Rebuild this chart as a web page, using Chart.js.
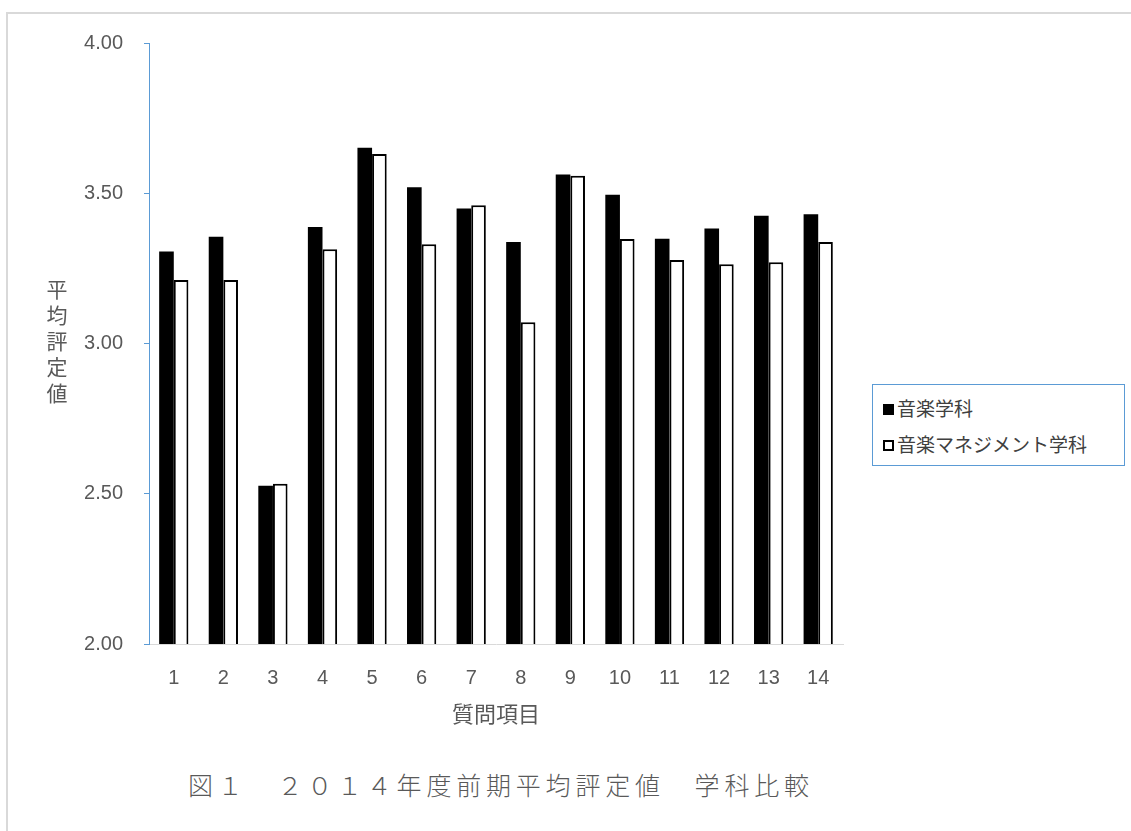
<!DOCTYPE html>
<html lang="ja">
<head>
<meta charset="utf-8">
<title>2014年度前期平均評定値 学科比較</title>
<script src="https://cdn.jsdelivr.net/npm/chart.js@4/dist/chart.umd.min.js"></script>
<style>
    body { margin: 0; background: #fff; font-family: Roboto, "Noto Sans CJK JP", sans-serif; }
    #page { position: relative; width: 1131px; height: 831px; overflow: hidden; }
    #frame { position: absolute; left: 6px; top: 12px; width: 1200px; height: 900px;
             border-left: 2px solid #d9d9d9; border-top: 2px solid #d9d9d9; }
    #chartBox { position: absolute; left: 0; top: 0; width: 870px; height: 740px; }
    #yTitle { position: absolute; left: 46px; top: 279px; writing-mode: vertical-rl;
              font-family: "Noto Sans CJK JP", sans-serif; font-size: 21px; line-height: 22px;
              letter-spacing: 5px; color: #595959; }
    #legend { position: absolute; left: 872px; top: 384px; width: 253px; height: 82px;
              border: 1px solid #5b9bd5; box-sizing: border-box; padding: 10px 0 0 10px;
              font-family: "Noto Sans CJK JP", sans-serif; font-size: 19px; color: #404040; }
    #legend div { height: 36px; line-height: 26px; white-space: nowrap; }
    #legend span.mark { display: inline-block; width: 11px; height: 11px; box-sizing: border-box;
                        margin-right: 3px; vertical-align: 1px; }
    #caption { position: absolute; left: 188px; top: 766px; white-space: nowrap;
               font-family: "Noto Sans CJK JP", sans-serif; font-weight: 300; font-size: 25px;
               letter-spacing: 4.8px; color: #595959; }
</style>
</head>
<body>
<div id="page">
    <div id="frame"></div>
    <div id="chartBox"><canvas id="chart"></canvas></div>
    <div id="yTitle">平均評定値</div>
    <div id="legend"></div>
    <div id="caption">図１　２０１４年度前期平均評定値　学科比較</div>
</div>
<script>
const questions = ['1', '2', '3', '4', '5', '6', '7', '8', '9', '10', '11', '12', '13', '14'];
const seriesNames = ['音楽学科', '音楽マネジメント学科'];
const musicAvg = [3.306, 3.355, 2.527, 3.388, 3.651, 3.520, 3.449, 3.338, 3.562, 3.495, 3.349, 3.383, 3.425, 3.430];
const managementAvg = [3.211, 3.211, 2.533, 3.314, 3.631, 3.330, 3.460, 3.071, 3.558, 3.348, 3.278, 3.264, 3.270, 3.338];
const yTicks = [2.0, 2.5, 3.0, 3.5, 4.0];

const axisBlue = '#5b9bd5';
const textGrey = '#595959';

function dataSet(label, bgColor, borderCol, borderW, data) {
    return {
        label: label,
        backgroundColor: bgColor,
        borderColor: borderCol,
        borderWidth: borderW,
        data: data,
        barPercentage: 1.0,
        categoryPercentage: 0.59
    }
}

const datasets = [
    dataSet(seriesNames[0], '#000000', '#000000', 0, musicAvg),
    dataSet(seriesNames[1], '#ffffff', '#000000', 2, managementAvg)
];

const chart = new Chart(document.getElementById('chart').getContext('2d'), {
    type: 'bar',
    data: {labels: questions, datasets: datasets},
    options: {
        responsive: true,
        maintainAspectRatio: false,
        animation: false,
        layout: {padding: {top: 43, right: 27, bottom: 0, left: 0}},
        plugins: {
            legend: {display: false},
            tooltip: {enabled: false}
        },
        scales: {
            x: {
                grid: {display: false},
                border: {display: true, color: '#d9d9d9', width: 1},
                ticks: {color: textGrey, font: {size: 20}, padding: 14, maxRotation: 0},
                title: {
                    display: true,
                    text: '質問項目',
                    color: textGrey,
                    font: {family: '"Noto Sans CJK JP", sans-serif', size: 22, weight: 'normal'},
                    padding: {top: 4, bottom: 13}
                },
                afterFit: function (scale) { scale.height = 96; }
            },
            y: {
                min: yTicks[0],
                max: yTicks[yTicks.length - 1],
                afterBuildTicks: function (scale) {
                    scale.ticks = yTicks.map(v => ({value: v}));
                },
                grid: {display: true, drawOnChartArea: false, drawTicks: true, tickLength: 5, color: axisBlue},
                border: {display: true, color: axisBlue, width: 1},
                ticks: {
                    color: textGrey,
                    font: {size: 20},
                    padding: 21,
                    callback: function (v) { return Number(v).toFixed(2); }
                },
                afterFit: function (scale) { scale.width = 149; }
            }
        }
    }
});

// legend with a framed box, like the spreadsheet original
const legendBox = document.getElementById('legend');
datasets.forEach(ds => {
    const row = document.createElement('div');
    const mark = document.createElement('span');
    mark.className = 'mark';
    mark.style.background = ds.backgroundColor;
    mark.style.border = '2px solid ' + ds.borderColor;
    row.appendChild(mark);
    row.appendChild(document.createTextNode(ds.label));
    legendBox.appendChild(row);
});
</script>
</body>
</html>
